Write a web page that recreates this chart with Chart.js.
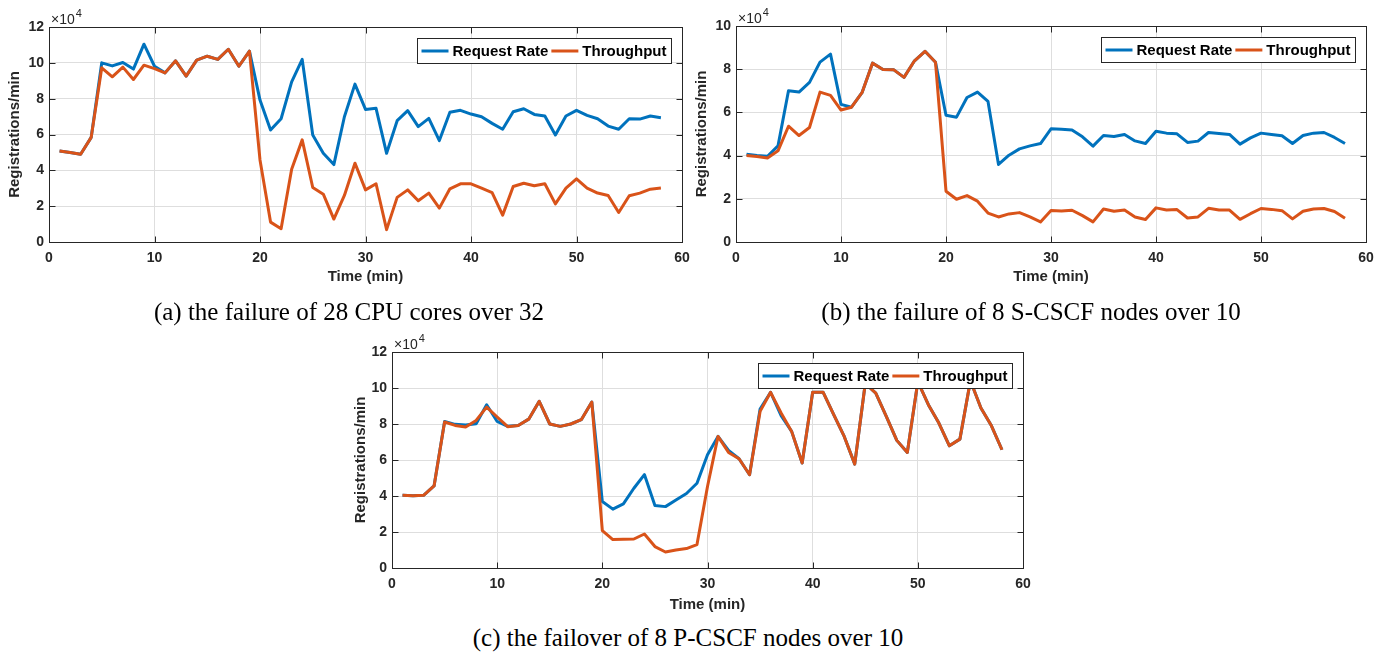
<!DOCTYPE html>
<html>
<head>
<meta charset="utf-8">
<script src="https://cdn.jsdelivr.net/npm/chart.js@4.4.0/dist/chart.umd.min.js"></script>
<style>
  html, body { margin: 0; padding: 0; background: #fff; }
  body { width: 1395px; height: 656px; overflow: hidden; position: relative; }
  canvas { position: absolute; }
  .caption {
    position: absolute;
    font-family: "Liberation Serif", "Times New Roman", serif;
    font-size: 25px;
    line-height: 25px;
    color: #000;
    white-space: nowrap;
    transform: translateX(-50%);
    z-index: 2;
  }
</style>
</head>
<body>
<canvas id="chartA" width="700" height="288"></canvas>
<canvas id="chartB" width="705" height="288"></canvas>
<canvas id="chartC" width="700" height="296"></canvas>
<div class="caption" style="left:349px; top:299px;">(a) the failure of 28 CPU cores over 32</div>
<div class="caption" style="left:1031px; top:299px;">(b) the failure of 8 S-CSCF nodes over 10</div>
<div class="caption" style="left:688px; top:625px;">(c) the failover of 8 P-CSCF nodes over 10</div>

<script>
// x categories (minutes) shared by all three panels
const minutes = [1, 2, 3, 4, 5, 6, 7, 8, 9, 10, 11, 12, 13, 14, 15, 16, 17, 18, 19, 20,
  21, 22, 23, 24, 25, 26, 27, 28, 29, 30, 31, 32, 33, 34, 35, 36, 37, 38, 39, 40,
  41, 42, 43, 44, 45, 46, 47, 48, 49, 50, 51, 52, 53, 54, 55, 56, 57, 58];

const seriesNames = ["Request Rate", "Throughput"];
const seriesColors = ["#0072BD", "#D95319"];

// values are in units of 10^4 registrations/min (as on the axes)
const requestA = [5.08, 4.99, 4.90, 5.84, 10.0, 9.83, 10.02, 9.65, 11.04, 9.81,
  9.44, 10.11, 9.26, 10.15, 10.37, 10.19, 10.76, 9.81, 10.65, 7.92,
  6.25, 6.88, 8.94, 10.19, 5.97, 4.95, 4.32, 6.99, 8.81, 7.40,
  7.46, 4.95, 6.77, 7.33, 6.44, 6.90, 5.66, 7.24, 7.35, 7.14,
  6.99, 6.62, 6.29, 7.27, 7.44, 7.12, 7.03, 5.97, 7.03, 7.35,
  7.07, 6.88, 6.47, 6.29, 6.88, 6.86, 7.03, 6.94];
const throughputA = [5.08, 4.99, 4.90, 5.84, 9.72, 9.22, 9.76, 9.07, 9.87, 9.68,
  9.44, 10.11, 9.26, 10.15, 10.37, 10.19, 10.76, 9.81, 10.65, 4.58,
  1.11, 0.74, 4.06, 5.70, 3.04, 2.67, 1.28, 2.60, 4.40, 2.91,
  3.25, 0.69, 2.49, 2.91, 2.30, 2.73, 1.89, 2.97, 3.25, 3.25,
  3.01, 2.76, 1.50, 3.10, 3.28, 3.14, 3.25, 2.13, 3.01, 3.53,
  3.01, 2.73, 2.60, 1.65, 2.58, 2.73, 2.95, 3.01];

const requestB = [4.06, 4.00, 3.97, 4.45, 7.00, 6.94, 7.39, 8.33, 8.70, 6.37,
  6.24, 6.91, 8.28, 7.99, 7.98, 7.62, 8.39, 8.83, 8.32, 5.87,
  5.78, 6.69, 6.94, 6.51, 3.59, 4.02, 4.31, 4.45, 4.56, 5.24,
  5.22, 5.19, 4.87, 4.44, 4.93, 4.88, 4.98, 4.68, 4.56, 5.13,
  5.04, 5.01, 4.61, 4.67, 5.07, 5.02, 4.98, 4.53, 4.82, 5.04,
  4.98, 4.92, 4.56, 4.93, 5.04, 5.07, 4.84, 4.56];
const throughputB = [4.00, 3.96, 3.89, 4.22, 5.36, 4.93, 5.30, 6.94, 6.79, 6.11,
  6.24, 6.91, 8.28, 7.99, 7.98, 7.62, 8.39, 8.83, 8.32, 2.35,
  1.98, 2.15, 1.89, 1.34, 1.16, 1.30, 1.36, 1.16, 0.93, 1.46,
  1.44, 1.47, 1.22, 0.93, 1.53, 1.42, 1.48, 1.16, 1.04, 1.58,
  1.48, 1.50, 1.11, 1.16, 1.56, 1.48, 1.48, 1.05, 1.31, 1.55,
  1.51, 1.45, 1.07, 1.42, 1.53, 1.55, 1.41, 1.10];

const requestC = [4.04, 4.01, 4.04, 4.56, 8.14, 7.98, 7.94, 8.01, 9.07, 8.14,
  7.87, 7.92, 8.27, 9.26, 8.00, 7.87, 8.00, 8.24, 9.22, 3.69,
  3.27, 3.56, 4.43, 5.19, 3.47, 3.41, 3.78, 4.14, 4.71, 6.29,
  7.31, 6.53, 6.07, 5.18, 8.83, 9.76, 8.46, 7.59, 5.83, 9.76,
  9.76, 8.52, 7.31, 5.77, 10.25, 9.72, 8.42, 7.09, 6.42, 10.35,
  9.07, 8.05, 6.79, 7.16, 10.4, 8.89, 7.90, 6.57];
const throughputC = [4.04, 4.01, 4.04, 4.56, 8.11, 7.92, 7.83, 8.20, 8.94, 8.39,
  7.85, 7.92, 8.27, 9.26, 8.00, 7.87, 8.00, 8.24, 9.22, 2.08,
  1.58, 1.60, 1.61, 1.89, 1.19, 0.89, 1.00, 1.08, 1.30, 4.53,
  7.31, 6.42, 6.07, 5.18, 8.70, 9.76, 8.61, 7.59, 5.83, 9.76,
  9.76, 8.52, 7.31, 5.77, 10.25, 9.72, 8.42, 7.09, 6.42, 10.35,
  9.07, 8.05, 6.79, 7.16, 10.4, 8.89, 7.90, 6.57];

// tick labels
const timeTicks = [0, 10, 20, 30, 40, 50, 60];
const yTicks12 = [0, 2, 4, 6, 8, 10, 12];
const yTicks10 = [0, 2, 4, 6, 8, 10];

const xTitle = "Time (min)";
const yTitle = "Registrations/min";
const exponentBase = "\u00d710";
const exponentPow = "4";

Chart.defaults.font.family = "'Liberation Sans', Arial, sans-serif";
Chart.defaults.color = "#262626";

const axisColor = "#262626";
const gridColor = "#dedede";

function crisp(v) { return Math.round(v) + 0.5; }

// matlab style box, inner ticks, x10^4 label and legend inside the axes
const matlabAxes = {
  id: "matlabAxes",
  afterDatasetsDraw(chart) {
    const { ctx, chartArea: a, scales: { x, y } } = chart;
    const L = crisp(a.left), R = crisp(a.right), T = crisp(a.top), B = crisp(a.bottom);
    ctx.save();
    ctx.strokeStyle = axisColor;
    ctx.lineWidth = 1;
    ctx.beginPath();
    x.ticks.forEach(t => {
      const px = crisp(x.getPixelForValue(t.value));
      if (px <= L || px >= R) return;
      ctx.moveTo(px, B); ctx.lineTo(px, B - 6);
      ctx.moveTo(px, T); ctx.lineTo(px, T + 6);
    });
    y.ticks.forEach(t => {
      const py = crisp(y.getPixelForValue(t.value));
      if (py <= T || py >= B) return;
      ctx.moveTo(L, py); ctx.lineTo(L + 6, py);
      ctx.moveTo(R, py); ctx.lineTo(R - 6, py);
    });
    ctx.stroke();
    ctx.strokeRect(L, T, R - L, B - T);

    // exponent
    ctx.fillStyle = axisColor;
    ctx.textBaseline = "alphabetic";
    ctx.textAlign = "left";
    ctx.font = "14px 'Liberation Sans', Arial, sans-serif";
    ctx.fillText(exponentBase, a.left + 2, a.top - 3);
    const w = ctx.measureText(exponentBase).width;
    ctx.font = "11px 'Liberation Sans', Arial, sans-serif";
    ctx.fillText(exponentPow, a.left + 3 + w, a.top - 10);

    // legend
    ctx.font = "bold 15px 'Liberation Sans', Arial, sans-serif";
    const sets = chart.data.datasets;
    const sample = 27, gap = 4, pad = 4;
    let total = pad;
    sets.forEach((d, i) => {
      total += sample + gap + ctx.measureText(d.label).width + (i < sets.length - 1 ? 3 : 5);
    });
    const h = 25;
    const bx = Math.round(a.right - 11 - total) + 0.5;
    const by = Math.round(a.top + 11) + 0.5;
    ctx.fillStyle = "#fff";
    ctx.fillRect(bx, by, total, h);
    ctx.strokeStyle = axisColor;
    ctx.strokeRect(bx, by, total, h);
    let cx = bx + pad;
    const cy = by + h / 2;
    ctx.textBaseline = "middle";
    sets.forEach((d, i) => {
      ctx.strokeStyle = d.borderColor;
      ctx.lineWidth = 3;
      ctx.beginPath();
      ctx.moveTo(cx, cy); ctx.lineTo(cx + sample, cy);
      ctx.stroke();
      cx += sample + gap;
      ctx.fillStyle = "#000";
      ctx.fillText(d.label, cx, cy + 1);
      cx += ctx.measureText(d.label).width + 3;
    });
    ctx.restore();
  }
};

function makeChart(id, box, request, throughput, yTicks, yTitlePad) {
  const canvas = document.getElementById(id);
  canvas.style.left = box.left + "px";
  canvas.style.top = box.top + "px";
  const yWidth = box.plotLeft - box.left;
  const xHeight = box.top + canvas.height - box.plotBottom;

  return new Chart(canvas, {
    type: "line",
    data: {
      datasets: [
        {
          label: seriesNames[0],
          data: minutes.map((m, i) => ({ x: m, y: request[i] })),
          borderColor: seriesColors[0],
          order: 1
        },
        {
          label: seriesNames[1],
          data: minutes.map((m, i) => ({ x: m, y: throughput[i] })),
          borderColor: seriesColors[1],
          order: 0
        }
      ]
    },
    options: {
      responsive: false,
      animation: false,
      events: [],
      elements: {
        point: { radius: 0 },
        line: { borderWidth: 3, tension: 0, borderJoinStyle: "round", fill: false }
      },
      layout: {
        padding: {
          left: 0,
          top: box.plotTop - box.top,
          right: box.left + canvas.width - box.plotRight,
          bottom: 0
        }
      },
      plugins: { legend: { display: false }, tooltip: { enabled: false } },
      scales: {
        x: {
          type: "linear",
          min: timeTicks[0],
          max: timeTicks[timeTicks.length - 1],
          afterBuildTicks: s => { s.ticks = timeTicks.map(v => ({ value: v })); },
          afterFit: s => { s.height = xHeight; },
          grid: { color: gridColor, drawTicks: false },
          border: { display: false },
          ticks: { padding: 8, font: { size: 14, weight: "bold" }, color: axisColor },
          title: {
            display: true,
            text: xTitle,
            font: { size: 15, weight: "bold" },
            color: axisColor,
            padding: { top: 0, bottom: 2 }
          }
        },
        y: {
          min: yTicks[0],
          max: yTicks[yTicks.length - 1],
          afterBuildTicks: s => { s.ticks = yTicks.map(v => ({ value: v })); },
          afterFit: s => { s.width = yWidth; },
          grid: { color: gridColor, drawTicks: false },
          border: { display: false },
          ticks: { padding: 5, font: { size: 14, weight: "bold" }, color: axisColor },
          title: {
            display: true,
            text: yTitle,
            font: { size: 15, weight: "bold" },
            color: axisColor,
            padding: { top: yTitlePad, bottom: 0 }
          }
        }
      }
    },
    plugins: [matlabAxes]
  });
}

makeChart("chartA",
  { left: 0, top: 0, plotLeft: 49, plotTop: 27, plotRight: 682, plotBottom: 242 },
  requestA, throughputA, yTicks12, 6);
makeChart("chartB",
  { left: 690, top: 0, plotLeft: 736, plotTop: 26, plotRight: 1366, plotBottom: 242 },
  requestB, throughputB, yTicks10, 3);
makeChart("chartC",
  { left: 340, top: 320, plotLeft: 392, plotTop: 352, plotRight: 1023, plotBottom: 568 },
  requestC, throughputC, yTicks12, 12);
</script>
</body>
</html>
